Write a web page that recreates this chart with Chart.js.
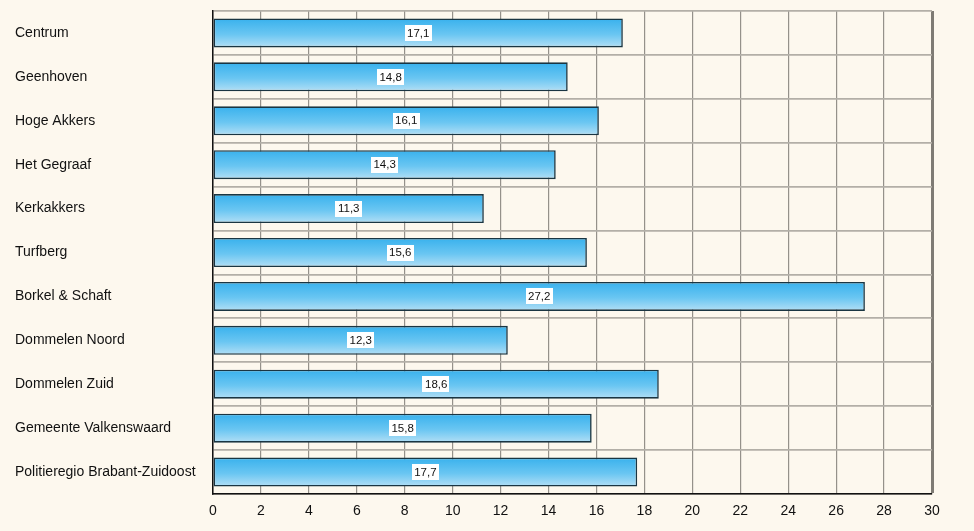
<!DOCTYPE html>
<html>
<head>
<meta charset="utf-8">
<script src="https://cdn.jsdelivr.net/npm/chart.js@4.4.1/dist/chart.umd.min.js"></script>
<style>
  html, body { margin: 0; padding: 0; background: #fdf8ee; }
  #wrap { width: 974px; height: 531px; }
</style>
</head>
<body>
<div id="wrap"><canvas id="barChart"></canvas></div>
<script>
// Wijken en waarden
const wijken = [
    'Centrum', 'Geenhoven', 'Hoge Akkers', 'Het Gegraaf', 'Kerkakkers', 'Turfberg',
    'Borkel & Schaft', 'Dommelen Noord', 'Dommelen Zuid', 'Gemeente Valkenswaard',
    'Politieregio Brabant-Zuidoost'
];
const waarden = [17.1, 14.8, 16.1, 14.3, 11.3, 15.6, 27.2, 12.3, 18.6, 15.8, 17.7];
const xMin = 0, xMax = 30, xStap = 2;

const BAR_PCT = 0.66;

// verloop per balk (donker boven, licht onder)
function balkKleur(ctx) {
    const chart = ctx.chart;
    const yScale = chart.scales.y;
    if (!chart.chartArea || !yScale) return '#5cc0ef';
    const mid = yScale.getPixelForValue(ctx.dataIndex);
    const half = (chart.chartArea.height / wijken.length) * BAR_PCT / 2;
    const g = chart.ctx.createLinearGradient(0, mid - half, 0, mid + half);
    g.addColorStop(0, '#38b1ed');
    g.addColorStop(0.55, '#6ac6f2');
    g.addColorStop(1, '#b3dff5');
    return g;
}

// witte labels midden in de balk
const waardeLabels = {
    id: 'waardeLabels',
    afterDatasetsDraw(chart) {
        const ctx = chart.ctx;
        const meta = chart.getDatasetMeta(0);
        ctx.save();
        ctx.font = '11.5px "Liberation Sans", Arial, sans-serif';
        ctx.textAlign = 'center';
        ctx.textBaseline = 'middle';
        meta.data.forEach((bar, i) => {
            const txt = waarden[i].toFixed(1).replace('.', ',');
            const x = (bar.base + bar.x) / 2;
            const y = bar.y;
            const w = ctx.measureText(txt).width + 5;
            ctx.fillStyle = '#ffffff';
            ctx.fillRect(Math.round(x - w / 2), Math.round(y - 8), Math.round(w), 16);
            ctx.fillStyle = '#111111';
            ctx.fillText(txt, x, y + 0.5);
        });
        ctx.restore();
    }
};

Chart.defaults.font.family = '"Liberation Sans", Arial, sans-serif';
Chart.defaults.color = '#111111';

new Chart(document.getElementById('barChart'), {
    type: 'bar',
    data: {
        labels: wijken,
        datasets: [{
            data: waarden,
            backgroundColor: balkKleur,
            borderColor: '#1a3542',
            borderWidth: 1.6,
            borderSkipped: false,
            categoryPercentage: 1,
            barPercentage: BAR_PCT
        }]
    },
    options: {
        indexAxis: 'y',
        responsive: true,
        maintainAspectRatio: false,
        animation: false,
        layout: { padding: { left: 15, right: 42, top: 11, bottom: 0 } },
        plugins: { legend: { display: false }, tooltip: { enabled: false } },
        scales: {
            x: {
                min: xMin, max: xMax,
                ticks: { stepSize: xStap, padding: 9, font: { size: 14 }, color: '#111' },
                grid: {
                    drawTicks: false,
                    color: c => (c.tick && c.tick.value === xMax) ? '#7f7b74' : '#95918a',
                    lineWidth: c => (c.tick && c.tick.value === xMax) ? 3 : 1.2
                },
                border: { display: true, color: '#111', width: 1.5 },
                afterFit: s => { s.height = 37; }
            },
            y: {
                ticks: { crossAlign: 'far', font: { size: 14 }, color: '#111', padding: 0 },
                grid: { drawTicks: false, color: '#b3afa7', lineWidth: 1.8 },
                border: { display: true, color: '#111', width: 1.5 },
                afterFit: s => { s.width = 198; }
            }
        }
    },
    plugins: [waardeLabels]
});
</script>
</body>
</html>
